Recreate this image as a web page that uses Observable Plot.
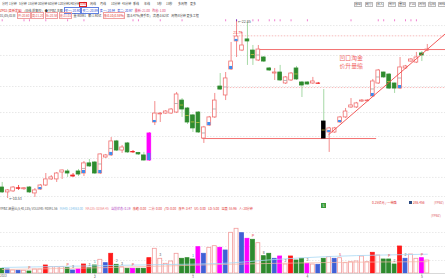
<!DOCTYPE html>
<html><head><meta charset="utf-8">
<script src="https://cdn.jsdelivr.net/npm/d3@7"></script>
<script src="https://cdn.jsdelivr.net/npm/@observablehq/plot@0.6"></script>
<style>
body{margin:0;background:#fff;}
#wrap{position:relative;width:445px;height:280px;overflow:hidden;font-family:"Noto Sans CJK SC","Noto Sans",sans-serif;}
.t{position:absolute;white-space:nowrap;line-height:1;}
.row{position:absolute;white-space:nowrap;line-height:1;left:0;}
.row span{margin-right:1.6px;}
#wrap svg{position:absolute;left:0;}
</style></head><body><div id="wrap"></div>
<script>
// ---------- price data (daily K-line) ----------
const kinds = ["d","u","u","r","u","d","u","u","u","u",
 "u","u","d","r","d","u","d","d","u","u",
 "u","d","u","d","r","d","d","m","u","u",
 "u","u","u","d","d","d","d","u","u","u",
 "d","u","u","u","u","d","d","u","d","d",
 "u","d","u","u","d","d","d","u","r","k",
 "u","u","u","u","u","u","u","u","u","u",
 "d","d","d","u","u","u","u","d","u"];
const opens = [11.29,10.95,11.02,11.20,11.17,11.29,10.88,11.15,11.43,11.85,
 11.85,12.33,12.40,12.12,12.40,12.26,12.96,13.02,12.26,13.37,
 13.51,14.48,13.85,14.34,13.72,13.68,13.51,13.16,15.79,16.35,
 16.41,16.41,16.48,17.31,16.76,16.28,16.48,14.68,15.58,16.14,
 18.28,17.66,19.46,21.40,20.77,21.54,20.77,20.08,20.29,19.53,
 19.18,19.25,18.49,18.70,19.53,18.56,18.56,18.49,18.49,15.86,
 15.10,15.10,15.79,16.14,16.83,16.83,17.24,17.26,17.59,18.49,
 19.25,19.11,18.49,18.14,19.53,20.01,19.94,20.57,20.77];
const closes = [10.95,11.09,11.29,11.24,11.24,10.95,11.09,11.43,11.85,11.99,
 12.26,12.47,12.26,12.05,12.19,12.96,12.75,12.26,13.58,13.51,
 14.48,13.85,14.06,13.72,13.75,13.58,13.16,15.03,16.41,16.41,
 16.55,16.69,17.73,16.69,15.79,15.38,15.10,15.45,16.14,17.31,
 18.07,18.84,20.01,21.74,21.12,21.40,20.22,20.84,20.01,19.39,
 19.25,18.70,18.91,19.18,18.77,18.35,18.42,18.63,18.47,14.68,
 15.38,15.38,16.14,16.55,16.97,17.11,17.31,17.31,18.63,19.39,
 18.91,18.14,18.14,19.60,19.67,20.15,20.29,20.43,20.84];
const highs = [11.64,11.15,11.36,11.43,11.29,11.36,11.22,11.50,12.26,12.12,
 12.33,12.50,12.54,12.26,12.54,13.09,13.23,13.09,13.62,13.58,
 14.75,14.55,14.20,14.41,13.85,13.72,13.72,15.10,17.24,16.48,
 16.62,16.76,17.87,17.45,16.83,16.35,16.55,15.52,16.21,17.80,
 19.18,19.25,21.33,22.85,22.02,22.71,21.12,21.12,20.36,19.60,
 19.53,19.74,18.97,19.25,19.67,18.63,18.60,18.91,18.56,18.07,
 15.45,15.45,16.21,16.76,17.45,17.18,17.38,17.38,18.77,19.46,
 19.28,19.18,18.52,20.29,19.74,20.22,20.64,20.70,21.19];
const lows = [10.88,10.53,10.95,11.09,11.09,10.88,10.60,11.09,11.36,11.78,
 11.64,11.85,11.99,11.99,12.05,12.05,12.68,12.19,12.19,13.30,
 13.44,13.78,13.65,13.65,13.65,13.51,13.12,13.09,15.58,15.79,
 16.35,16.35,16.41,16.14,15.65,15.10,15.03,14.34,15.52,16.07,
 18.01,17.31,19.39,20.29,20.70,19.74,19.74,20.01,19.94,19.32,
 18.70,18.63,18.42,18.63,18.70,17.52,18.38,18.42,18.42,14.68,
 13.72,15.03,15.72,16.07,16.76,16.76,17.18,17.24,17.52,18.42,
 18.84,18.07,17.80,18.07,19.46,19.94,19.87,20.01,20.70];
// blue signal patch at the foot of some bodies
const blueIdx = [7,15,18,20,27,28,38,42,43,60,62,68,73];
const blueTop = [11.29,12.47,12.47,13.72,13.65,15.93,15.79,19.67,21.54,15.24,15.93,17.80,18.35];
const midIdx = [15,18,20,32,33,34,35,36,37,39,41,46,47,52,54,59,68,69,71,73];
const markIdx = [0,4,5,8,12,15,24,25,29,33,41,43,46,47,49,50,51,53,56,64,69,70,72,74,75,76];
const gridPrices = [22.50,20.43,18.28,16.48,14.82,13.30,11.99,10.67];
const highPrice = 22.85, highIdx = 43;
const lowPrice = 10.53, lowIdx = 1;
const lvl2179 = 21.79, lvl1821 = 18.21;
const annoText = ["凹口淘金","价升量缩"];
const annoX = [61.9, 61.9];
const annoY = [20.25, 19.70];

// ---------- volume data ----------
const volumes = [32900,28000,21000,18900,18900,14000,28000,28000,56000,44100,
 44100,44100,37100,21000,28000,63000,37100,56000,95900,72100,
 137900,60900,44100,32900,32900,32900,32900,107100,172900,102900,
 67900,84000,137900,102900,107100,98000,184100,137900,179900,191100,
 179900,161000,284900,312900,282100,242900,235900,212100,121100,137900,
 102900,119000,63000,119000,91000,102900,67900,63000,60900,102900,
 114100,102900,107100,72100,79100,84000,119000,79100,144900,126000,
 98000,98000,63000,189000,102900,133000,102900,107100,90892];
const volKinds = ["g","b","h","b","h","g","h","h","r","h",
 "h","h","g","b","m","r","g","g","h","b",
 "r","g","h","g","m","g","g","r","h","h",
 "h","h","h","g","g","g","m","b","h","h",
 "m","b","h","h","b","m","g","h","g","g",
 "b","m","h","r","g","g","m","h","b","g",
 "h","b","h","h","h","h","h","h","r","h",
 "g","g","g","r","b","h","h","m","h"];
const volLabelIdx = [5,12,13,16,17,21,22,24,29,35,46,48,52,56,62,71,72,74,77];
const volLabelText = ["P","P","3","3","1","2","3","P","3","1","P","8","2","3","S","P","2","2","P"];
const maBlueIdx = [0,10,20,30,40,50,60,70,78];
const maBlue = [42000,49000,56000,63000,70000,98000,119000,129500,134863];
const maPinkIdx = [0,20,40,60,78];
const maPink = [28000,42000,63000,77000,82864];
const volGrid = [287000,189000,91000];
const monthIdx = [17,35,56,77];
const monthText = ["2","3","4","5"];

// ---------- styles ----------
const UP="#f07070", GREEN="#2e8b2e", WICKG="#8fcf8f";
const bodyFill = {u:"#fff", d:GREEN, r:"#f02a2a", m:"#ff00ff", k:"#000"};
const bodyStroke = {u:UP, d:GREEN, r:"#f02a2a", m:"#ff00ff", k:"#000"};
const wickStroke = {u:UP, d:WICKG, r:"#f02a2a", m:UP, k:WICKG};
const volFill = {g:"#2e8a2e", b:"#4060d6", h:"#fff", r:"#ff1a1a", m:"#ff00ff"};
const volStroke = {g:"#2e8a2e", b:"#4060d6", h:"#f39a9a", r:"#ff1a1a", m:"#ff00ff"};
const FONT = "Noto Sans CJK SC, Noto Sans, sans-serif";

const candles = opens.map((o,i)=>({i, o, c:closes[i], h:highs[i], l:lows[i], k:kinds[i]}));
const blues = blueIdx.map((i,j)=>({i, b:Math.min(opens[i],closes[i]), t:blueTop[j]}));
const mids = midIdx.map(i=>({i, m:(opens[i]+closes[i])/2, k:kinds[i]}));
const vols = volumes.map((v,i)=>({i, v, k:volKinds[i]}));

const X = {type:"linear", domain:[0,78], range:[1.7,426.8], axis:null};

const main = Plot.plot({
  width:445, height:200, marginTop:0, marginBottom:0, marginLeft:0, marginRight:0,
  x: X,
  y: {type:"linear", domain:[lowPrice, highPrice], range:[198,20], axis:null},
  color: {type:"identity"},
  style: {background:"transparent", overflow:"visible"},
  marks: [
    Plot.ruleY(gridPrices, {stroke:"#d9d9d9", strokeWidth:0.6, strokeDasharray:"1.5,1.5"}),
    Plot.ruleY([lvl2179], {x1:42.4, x2:82, stroke:"#f4a0a0", strokeWidth:0.7, strokeDasharray:"1.5,1.5"}),
    Plot.ruleY([lvl1821], {x1:41.3, x2:82, stroke:"#f4a0a0", strokeWidth:0.7, strokeDasharray:"1.5,1.5"}),
    Plot.ruleY([20.84], {x1:47, x2:82, stroke:"#f06060", strokeWidth:0.9}),
    Plot.ruleY([14.68], {x1:36.8, x2:68.7, stroke:"#f06060", strokeWidth:0.9}),
    Plot.ruleX(candles, {x:"i", y1:"l", y2:"h", stroke:d=>wickStroke[d.k], strokeWidth:0.8}),
    Plot.rect(candles, {x1:d=>d.i-0.34, x2:d=>d.i+0.34, y1:"o", y2:"c",
      fill:d=>bodyFill[d.k], stroke:d=>bodyStroke[d.k], strokeWidth:0.8}),
    Plot.rect(blues, {x1:d=>d.i-0.28, x2:d=>d.i+0.28, y1:"b", y2:"t", fill:"#3d8ef0"}),
    Plot.ruleY(mids, {y:"m", x1:d=>d.i-0.3, x2:d=>d.i+0.3, stroke:d=>(d.k==="u"?"#9a9a9a":"#d8c840"), strokeWidth:0.7}),
    Plot.line([{x:59.93,y:14.96},{x:81.3,y:21.93}], {x:"x", y:"y", stroke:"#f04848", strokeWidth:0.9}),
    Plot.ruleX(markIdx, {x:d=>d, y1:22.90, y2:22.76, stroke:d=>(d===highIdx?"#8030c0":"#f080d0"), strokeWidth:1}),
    Plot.text([highPrice], {x:highIdx, y:d=>d, text:d=>"←"+d.toFixed(2), dx:1.5, dy:1, textAnchor:"start", fill:"#444", fontSize:3.6, fontFamily:FONT}),
    Plot.text([lvl2179], {x:highIdx-0.6, y:d=>d, text:d=>d.toFixed(2), dy:-3.2, textAnchor:"start", fill:"#e83030", fontSize:3.6, fontFamily:FONT}),
    Plot.text([lowPrice], {x:lowIdx, y:d=>d, text:d=>"←"+d.toFixed(2), dx:1.5, textAnchor:"start", fill:"#444", fontSize:3.6, fontFamily:FONT}),
    Plot.text(annoText, {x:(d,j)=>annoX[j], y:(d,j)=>annoY[j], text:d=>d, textAnchor:"start", fill:"#f06464", fontSize:5.8, fontFamily:FONT})
  ]
});
main.style.top = "0px";

const vol = Plot.plot({
  width:445, height:80, marginTop:0, marginBottom:0, marginLeft:0, marginRight:0,
  x: X,
  y: {type:"linear", domain:[0,315000], range:[73,28], axis:null},
  color: {type:"identity"},
  style: {background:"transparent", overflow:"visible"},
  marks: [
    Plot.ruleY(volGrid, {stroke:"#dcdcdc", strokeWidth:0.6, strokeDasharray:"1.5,1.5"}),
    Plot.rect(vols, {x1:d=>d.i-0.36, x2:d=>d.i+0.36, y1:0, y2:"v",
      fill:d=>volFill[d.k], stroke:d=>volStroke[d.k], strokeWidth:0.8}),
    Plot.line(maPinkIdx.map((x,j)=>({x, y:maPink[j]})), {x:"x", y:"y", stroke:"#f5b8a8", strokeWidth:0.7, curve:"monotone-x"}),
    Plot.line(maBlueIdx.map((x,j)=>({x, y:maBlue[j]})), {x:"x", y:"y", stroke:"#a8d8f4", strokeWidth:0.8, curve:"monotone-x"}),
    Plot.text(volLabelIdx, {x:d=>d, y:(d)=>volumes[d], text:(d,j)=>volLabelText[j], dy:-3.5,
      fill:(d,j)=>(volLabelText[j]==="P"||volLabelText[j]==="S")?"#e83030":(volLabelText[j]==="1"?"#20a8a8":"#555"),
      fontSize:3.6, fontFamily:FONT}),
    Plot.ruleY([0], {stroke:"#c8c8c8", strokeWidth:0.7}),
    Plot.ruleX(monthIdx, {x:d=>d, y1:0, y2:-17000, stroke:"#aaa", strokeWidth:0.6}),
    Plot.text(monthIdx, {x:d=>d, text:(d,j)=>monthText[j], frameAnchor:"bottom", dy:-3, fill:"#666", fontSize:3.4, fontFamily:FONT})
  ]
});
vol.style.top = "200px";

const wrap = document.getElementById("wrap");
wrap.appendChild(main);
wrap.appendChild(vol);

// ---------- header texts ----------
function put(txt, x, y, color, size, extra){
  const d = document.createElement("div");
  d.className = "t";
  d.textContent = txt;
  d.style.left = x+"px"; d.style.top = y+"px";
  d.style.color = color; d.style.fontSize = size+"px";
  if (extra) Object.assign(d.style, extra);
  wrap.appendChild(d);
  return d;
}
function row(segs, x, y, size, gap){
  const d = document.createElement("div");
  d.className = "row";
  d.style.left = x+"px"; d.style.top = y+"px"; d.style.fontSize = size+"px";
  segs.forEach(s=>{
    const sp = document.createElement("span");
    sp.textContent = s[0]; sp.style.color = s[1];
    if (gap!=null) sp.style.marginRight = gap+"px";
    if (s[2]) { sp.style.outline = "0.4px solid "+s[2]; sp.style.outlineOffset = "0.3px"; }
    d.appendChild(sp);
  });
  wrap.appendChild(d);
  return d;
}
const tabs = ["分时","1分钟","5分钟","15分钟","30分钟","60分钟","120分钟","240分钟","日线","周线","月线","10分钟","45分钟","季线","年线","5秒","15秒","多周期","更多"];
const tabX = [2,9,19,28,38,48,58,69,80,90,100,111,122,133,144,157,166,178,190];
tabs.forEach((t,j)=>put(t, tabX[j], 3.3, t==="日线"?"#e02020":"#444", 3.0,
  t==="日线"?{outline:"0.5px solid #e02020", outlineOffset:"0.5px"}:null));
const tools = ["移动","缩小","放大","统计","叠加","F10","周期","指标","画线"];
const toolX = [355,366,377,389,399,410,419,429,439];
tools.forEach((t,j)=>put(t, toolX[j], 3.3, "#444", 3.0, {outline:"0.4px solid #bbb", outlineOffset:"0.6px"}));

row([["ZP02 [高新发展]","#e02020"],["(日线,前复权)","#444"],["● YPBZ-主图","#444"],
  ["买一: 20.90","#2040d0","#6080e0"],["买二: 20.89","#2040d0","#6080e0"],["卖一: 20.94","#2040d0"],["卖二: 20.97","#2040d0"],
  ["最新: 21.00","#e04070"],["昨收: 1.00","#e04070"]], 0, 9.1, 3.05, 2.2);
row([["01/05/01日","#444"],["开:20.60","#e05050","#f0a0a0"],["高:21.20","#e05050","#f0a0a0"],["低:20.58","#e05050","#f0a0a0"],
  ["收:21.01","#e05050","#f0a0a0"],["量:90891","#444"],["额:1.90亿","#444"],["涨:0.10(0.55%)","#e02020","#f0a0a0"],
  ["振:3.47%(换手率)","#444"],["流通:3.62亿","#444"],["周期:8分钟 更多工程","#444"]], 0, 13.6, 3.05, 2.4);

// volume panel texts
row([["YPBZ-涵量比(5,40,135) VOLUME: 90891.56","#555"],["MA40: 134863.00","#7cc0ea"],
  ["MA135: 82864.45","#f08080"],["当前状态: 0.19","#b040c0"],["涨缩: 0.00","#e03030"],
  ["二分: 0.00","#e03030"],["(T0: 0.00","#e03030"],["涨平: 3.47","#e03030"],
  ["UG: 0.00","#e03030"],["LD: 5.00","#e03030"],["温度: 55.96","#e03030"],["人: 20分钟","#e03030"]], 0, 207.6, 3.0, 2.4);
put("0.25亿元 / 一带路", 372, 200.6, "#e03030", 3.2);
put("286.456", 413, 200.6, "#e03030", 3.2);
put("[YPBZ]", 434, 200.6, "#e06060", 3.2);
put("[YPBZ]", 431, 214.4, "#e06060", 3.2);
put("", 409, 200.5, "#fff", 3, {width:"3px", height:"3.5px", background:"#2a4a80"});
put("S", 321, 203.3, "#fff", 3.2, {width:"5px", height:"5px", background:"#3a9a3a", textAlign:"center", lineHeight:"5px"});
put("2023", 0, 274.6, "#666", 3.0);
</script></body></html>
